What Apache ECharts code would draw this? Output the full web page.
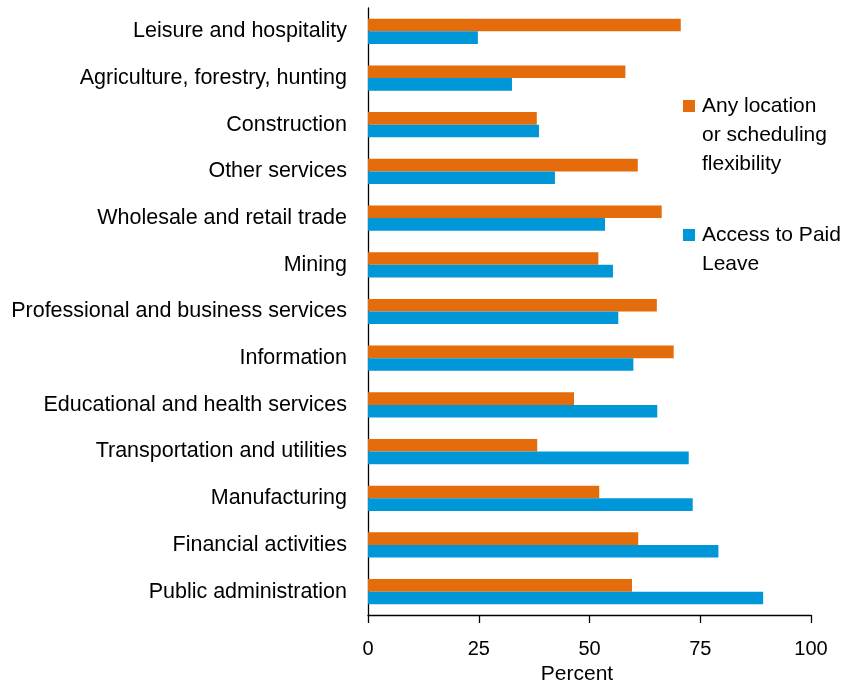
<!DOCTYPE html>
<html>
<head>
<meta charset="utf-8">
<script src="https://cdn.jsdelivr.net/npm/echarts@6/dist/echarts.min.js"></script>
<style>
  html, body { margin: 0; padding: 0; background: #fff; }
  #chart { width: 842px; height: 684px; }
</style>
</head>
<body>
<div id="chart"></div>
<script>
// industries, top to bottom
var industries = [
  'Leisure and hospitality',
  'Agriculture, forestry, hunting',
  'Construction',
  'Other services',
  'Wholesale and retail trade',
  'Mining',
  'Professional and business services',
  'Information',
  'Educational and health services',
  'Transportation and utilities',
  'Manufacturing',
  'Financial activities',
  'Public administration'
];
var flexibility = [70.6, 58.1, 38.1, 60.9, 66.3, 52.0, 65.2, 69.0, 46.5, 38.2, 52.2, 61.0, 59.6];
var paidLeave = [24.8, 32.5, 38.6, 42.2, 53.5, 55.3, 56.5, 59.9, 65.3, 72.4, 73.3, 79.1, 89.2];
var xTicks = [0, 25, 50, 75, 100];
var seriesNames = ['Any location\nor scheduling\nflexibility', 'Access to Paid\nLeave'];
var colors = ['#e46c0a', '#0097d9'];

var font = '"Liberation Sans", Arial, sans-serif';
var chart = echarts.init(document.getElementById('chart'));

// legend drawn by hand so the square sits on the first text line
function legendItem(i, top) {
  return [{
    type: 'rect',
    left: 683,
    top: top + 8,
    shape: { width: 12, height: 12 },
    style: { fill: colors[i] }
  }, {
    type: 'text',
    left: 702,
    top: top,
    style: {
      text: seriesNames[i],
      font: '21px ' + font,
      fill: '#000',
      lineHeight: 29
    }
  }];
}

chart.setOption({
  animation: false,
  textStyle: { fontFamily: font },
  grid: { left: 368, right: 31, top: 8, bottom: 69, outerBoundsMode: 'none', containLabel: false },
  graphic: legendItem(0, 92).concat(legendItem(1, 221)),
  xAxis: {
    type: 'value',
    min: 0,
    max: 100,
    interval: 25,
    name: 'Percent',
    nameLocation: 'middle',
    nameGap: 48,
    nameTextStyle: { fontSize: 21, color: '#000', padding: [0, 25, 0, 0] },
    axisLine: { show: true, lineStyle: { color: '#000', width: 1.3 } },
    axisTick: { show: true, length: 8, lineStyle: { color: '#000', width: 1.3 } },
    axisLabel: {
      fontSize: 20, color: '#000', margin: 24,
      formatter: function (v) { return xTicks.indexOf(v) >= 0 ? String(v) : ''; }
    },
    splitLine: { show: false }
  },
  yAxis: {
    type: 'category',
    data: industries,
    inverse: true,
    axisLine: { show: true, lineStyle: { color: '#000', width: 1.3 } },
    axisTick: { show: false },
    axisLabel: { fontSize: 21.5, color: '#000', margin: 21 }
  },
  series: [{
    name: seriesNames[0],
    type: 'bar',
    data: flexibility,
    barGap: '0%',
    barCategoryGap: '46%',
    itemStyle: { color: colors[0] }
  }, {
    name: seriesNames[1],
    type: 'bar',
    data: paidLeave,
    barGap: '0%',
    barCategoryGap: '46%',
    itemStyle: { color: colors[1] }
  }]
});
</script>
</body>
</html>
